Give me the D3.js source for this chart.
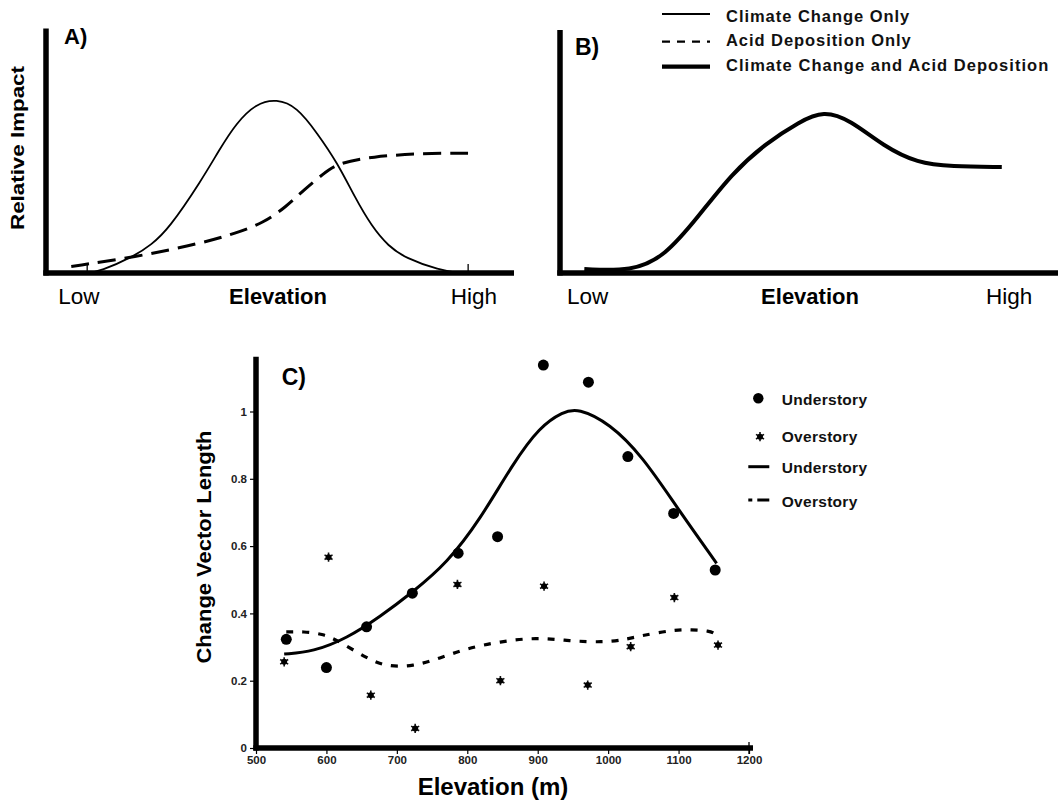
<!DOCTYPE html>
<html><head><meta charset="utf-8">
<script src="https://cdn.jsdelivr.net/npm/d3@7"></script>
<style>
html,body{margin:0;padding:0;background:#fff;}
svg{display:block;font-family:"Liberation Sans",Arial,sans-serif;}
</style></head>
<body><svg id="c" width="1058" height="803"></svg>
<script>
// ---------- DATA ----------
// Panel A (relative position along elevation axis 0-100, relative impact 0-1)
const aClimateX = [8.7,11.6,18.8,22.5,26.1,33.3,37.0,40.6,44.9,49.3,53.6,58.0,62.3,65.9,69.6,73.2,76.8,84.1,88.4];
const aClimateY = [0,0.007,0.068,0.116,0.177,0.381,0.503,0.612,0.694,0.712,0.680,0.571,0.449,0.313,0.190,0.109,0.061,0.011,0];
const aAcidX = [5.4,18.8,33.3,40.6,46.4,51.4,55.1,59.4,62.3,69.6,80.4,90.6];
const aAcidY = [0.027,0.064,0.122,0.163,0.204,0.272,0.340,0.408,0.449,0.476,0.490,0.490];
// Panel B
const bBothX = [5.2,15.3,22.4,29.6,36.8,44.0,51.2,56.3,62.0,69.2,76.4,83.6,94.4];
const bBothY = [0.016,0.007,0.068,0.233,0.411,0.534,0.623,0.668,0.630,0.521,0.452,0.438,0.436];
const abTickLabels = ["Low","High"];
const legendTop = ["Climate Change Only","Acid Deposition Only","Climate Change and Acid Deposition"];
// Panel C
const underElev = [543,600,657,722,787,843,908,972,1028,1093,1152];
const underCVL  = [0.323,0.239,0.36,0.46,0.579,0.628,1.138,1.087,0.866,0.697,0.529];
const overElev = [540,603,663,726,786,847,909,971,1032,1094,1156];
const overCVL  = [0.256,0.567,0.157,0.058,0.486,0.2,0.481,0.187,0.301,0.447,0.306];
const underFitElev = [540,581,629,676,723,771,818,865,903,936,957,1002,1049,1097,1154];
const underFitCVL  = [0.279,0.286,0.326,0.39,0.464,0.549,0.678,0.846,0.955,0.999,1.01,0.965,0.866,0.717,0.549];
const overFitElev = [543,567,596,619,657,685,723,761,799,846,898,945,993,1021,1045,1092,1118,1144,1151];
const overFitCVL  = [0.345,0.346,0.339,0.316,0.267,0.242,0.242,0.267,0.296,0.316,0.329,0.318,0.314,0.321,0.333,0.351,0.352,0.348,0.34];
const cXTicks = [500,600,700,800,900,1000,1100,1200];
const cYTicks = [0,0.2,0.4,0.6,0.8,1];
const legendC = ["Understory","Overstory","Understory","Overstory"];

// ---------- DRAW ----------
const svg = d3.select("#c");
const zip = (xs, ys) => xs.map((x,i)=>[x, ys[i]]);
const smooth = d3.curveBasis;

function axisLines(g, x0, yTop, yBase, xEnd){
  g.append("line").attr("x1",x0).attr("x2",x0).attr("y1",yTop).attr("y2",yBase+2.5)
   .attr("stroke","#000").attr("stroke-width",5.5);
  g.append("line").attr("x1",x0-2.7).attr("x2",xEnd).attr("y1",yBase).attr("y2",yBase)
   .attr("stroke","#000").attr("stroke-width",5.5);
}

// Panel A
{
  const x = d3.scaleLinear().domain([0,100]).range([46,514]);
  const y = d3.scaleLinear().domain([0,1]).range([273,28.5]);
  const g = svg.append("g");
  const line = d3.line().x(d=>x(d[0])).y(d=>y(d[1])).curve(smooth);
  g.append("path").attr("d", line(zip(aClimateX,aClimateY))).attr("fill","none")
   .attr("stroke","#000").attr("stroke-width",1.8);
  g.append("path").attr("d", line(zip(aAcidX,aAcidY))).attr("fill","none")
   .attr("stroke","#000").attr("stroke-width",3).attr("stroke-dasharray","18,9");
  // small tick marks at Low / High
  [8.8,90.2].forEach(v=>g.append("line").attr("x1",x(v)).attr("x2",x(v)).attr("y1",264).attr("y2",271)
     .attr("stroke","#000").attr("stroke-width",1.3));
  axisLines(g, 46, 28.5, 273, 514);
  g.append("text").attr("x",64).attr("y",44).attr("font-size",22).attr("font-weight","bold").text("A)");
  g.append("text").attr("transform","translate(24,148) rotate(-90)").attr("text-anchor","middle")
   .attr("font-size",19).attr("font-weight","bold").attr("textLength",164).attr("lengthAdjust","spacingAndGlyphs").text("Relative Impact");
  g.append("text").attr("x",58.3).attr("y",304).attr("font-size",22.5).text(abTickLabels[0]);
  g.append("text").attr("x",450.7).attr("y",304).attr("font-size",22.5).text(abTickLabels[1]);
  g.append("text").attr("x",278).attr("y",304).attr("text-anchor","middle").attr("font-size",22)
   .attr("font-weight","bold").text("Elevation");
}

// Panel B
{
  const x = d3.scaleLinear().domain([0,100]).range([560,1028]);
  const y = d3.scaleLinear().domain([0,1]).range([273,30]);
  const g = svg.append("g");
  const line = d3.line().x(d=>x(d[0])).y(d=>y(d[1])).curve(smooth);
  g.append("path").attr("d", line(zip(bBothX,bBothY))).attr("fill","none")
   .attr("stroke","#000").attr("stroke-width",4);
  axisLines(g, 560, 30, 273, 1058);
  g.append("text").attr("x",575).attr("y",55).attr("font-size",23).attr("font-weight","bold").text("B)");
  g.append("text").attr("x",567).attr("y",304).attr("font-size",22.5).text(abTickLabels[0]);
  g.append("text").attr("x",986).attr("y",304).attr("font-size",22.5).text(abTickLabels[1]);
  g.append("text").attr("x",810).attr("y",304).attr("text-anchor","middle").attr("font-size",22)
   .attr("font-weight","bold").text("Elevation");
  // legend
  const ly = [14,41.7,66.7], tb = [21.7,45.7,71], tl = [183.3,184.7,322.3];
  const styles = [{w:2,d:null},{w:2.2,d:"8,7"},{w:4.2,d:null}];
  legendTop.forEach((t,i)=>{
    const l = g.append("line").attr("x1",662).attr("x2",710).attr("y1",ly[i]).attr("y2",ly[i])
      .attr("stroke","#000").attr("stroke-width",styles[i].w);
    if(styles[i].d) l.attr("stroke-dasharray",styles[i].d);
    g.append("text").attr("x",726).attr("y",tb[i]).attr("font-size",16.5).attr("font-weight","bold")
     .attr("fill","#111").attr("textLength",tl[i]).attr("lengthAdjust","spacing").text(t);
  });
}

// Panel C
{
  const x = d3.scaleLinear().domain([500,1200]).range([256,749]);
  const y = d3.scaleLinear().domain([0,1]).range([748,411.5]);
  const g = svg.append("g");
  const line = d3.line().x(d=>x(d[0])).y(d=>y(d[1])).curve(smooth);
  g.append("path").attr("d", line(zip(underFitElev,underFitCVL))).attr("fill","none")
   .attr("stroke","#000").attr("stroke-width",3);
  g.append("path").attr("d", line(zip(overFitElev,overFitCVL))).attr("fill","none")
   .attr("stroke","#000").attr("stroke-width",3.2).attr("stroke-dasharray","7,9");
  g.selectAll("circle.u").data(zip(underElev,underCVL)).join("circle").attr("class","u")
   .attr("cx",d=>x(d[0])).attr("cy",d=>y(d[1])).attr("r",5.5).attr("fill","#000");
  const star = d3.symbol().type(d3.symbolAsterisk).size(60);
  const ov = g.selectAll("g.o").data(zip(overElev,overCVL)).join("g").attr("class","o")
   .attr("transform",d=>`translate(${x(d[0])},${y(d[1])})`);
  ov.append("path").attr("d",star()).attr("stroke","#111").attr("stroke-width",1.6).attr("fill","none");
  ov.append("circle").attr("r",3).attr("fill","#000");

  // axes
  const xa = g.append("g").attr("transform","translate(0,748)")
    .call(d3.axisBottom(x).tickValues(cXTicks).tickSize(6).tickFormat(d3.format("d")));
  xa.select(".domain").remove();
  xa.selectAll("line").attr("stroke","#000").attr("stroke-width",1.2);
  xa.selectAll("text").attr("font-size",11.5).attr("font-weight","bold").attr("fill","#222")
    .attr("font-family","Liberation Sans, Arial, sans-serif").attr("dy","0.9em").attr("y",6);
  const ya = g.append("g").attr("transform","translate(256,0)")
    .call(d3.axisLeft(y).tickValues(cYTicks).tickSize(6).tickFormat(d=>d===0?"0":d===1?"1":d3.format(".1f")(d)));
  ya.select(".domain").remove();
  ya.selectAll("line").attr("stroke","#000").attr("stroke-width",1.2);
  ya.selectAll("text").attr("font-size",11.5).attr("font-weight","bold").attr("fill","#222")
    .attr("font-family","Liberation Sans, Arial, sans-serif").attr("x",-9);
  g.append("line").attr("x1",256).attr("x2",256).attr("y1",356.7).attr("y2",750.5)
   .attr("stroke","#000").attr("stroke-width",5.5);
  g.append("line").attr("x1",253.3).attr("x2",753).attr("y1",748).attr("y2",748)
   .attr("stroke","#000").attr("stroke-width",5.5);
  g.append("line").attr("x1",x(1200)).attr("x2",x(1200)).attr("y1",742).attr("y2",754)
   .attr("stroke","#000").attr("stroke-width",1.3);

  g.append("text").attr("x",281.7).attr("y",385).attr("font-size",23).attr("font-weight","bold").text("C)");
  g.append("text").attr("transform","translate(211,547) rotate(-90)").attr("text-anchor","middle")
   .attr("font-size",20).attr("font-weight","bold").attr("textLength",233).attr("lengthAdjust","spacingAndGlyphs")
   .text("Change Vector Length");
  g.append("text").attr("x",493).attr("y",795).attr("text-anchor","middle").attr("font-size",24)
   .attr("font-weight","bold").text("Elevation (m)");

  // legend
  const lb = [405,441.7,472.7,506.7], lc = [398.3,436.7,466.7,500];
  g.append("circle").attr("cx",758.3).attr("cy",lc[0]).attr("r",5.2).attr("fill","#000");
  const ls = g.append("g").attr("transform",`translate(760,${lc[1]})`);
  ls.append("path").attr("d",star()).attr("stroke","#111").attr("stroke-width",1.6).attr("fill","none");
  ls.append("circle").attr("r",3).attr("fill","#000");
  g.append("line").attr("x1",748.3).attr("x2",769.3).attr("y1",lc[2]).attr("y2",lc[2])
   .attr("stroke","#000").attr("stroke-width",3);
  g.append("line").attr("x1",748.3).attr("x2",769.3).attr("y1",lc[3]).attr("y2",lc[3])
   .attr("stroke","#000").attr("stroke-width",3).attr("stroke-dasharray","4,5,12");
  legendC.forEach((t,i)=>g.append("text").attr("x",781.7).attr("y",lb[i]).attr("font-size",15.5)
    .attr("font-weight","bold").attr("fill","#111").attr("letter-spacing",0.3).text(t));
}
</script></body></html>
